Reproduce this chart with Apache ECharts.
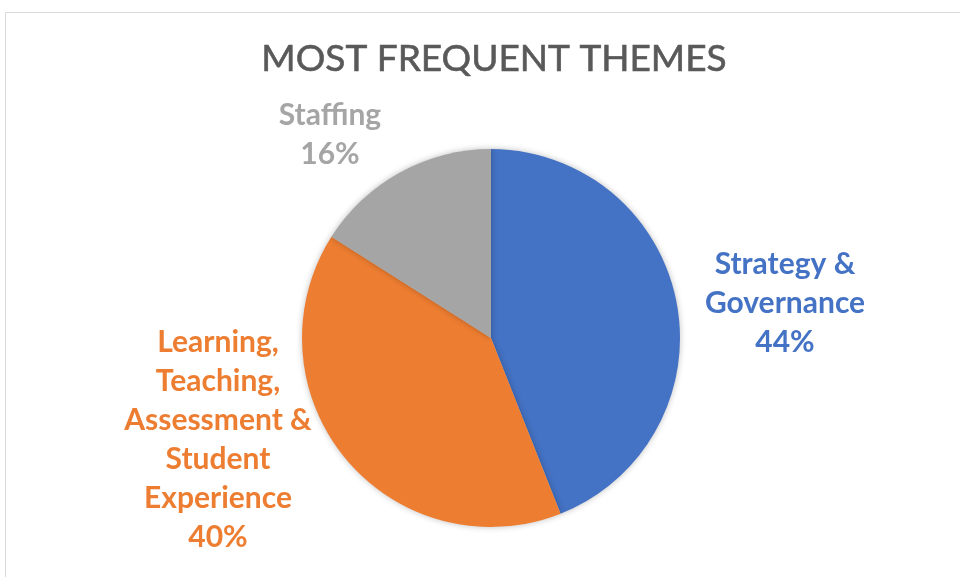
<!DOCTYPE html>
<html>
<head>
<meta charset="utf-8">
<script src="https://cdn.jsdelivr.net/npm/echarts@6/dist/echarts.min.js"></script>
<style>html,body{margin:0;padding:0;background:#fff}#c{width:960px;height:577px}</style>
</head>
<body>
<div id="c"></div>
<script>
const titleText = 'MOST FREQUENT THEMES';
const categories = ['Strategy &\nGovernance', 'Learning,\nTeaching,\nAssessment &\nStudent\nExperience', 'Staffing'];
const values = [44, 40, 16];
const colors = ['#4472C4', '#ED7D31', '#A5A5A5'];

// label placement (layout only, Excel "best fit" look)
const labelSpots = [[785, 303], [218, 440], [330, 135]];

const chart = echarts.init(document.getElementById('c'), null, {renderer: 'canvas'});
const FONT = 'Lato, "Open Sans", sans-serif';
chart.setOption({
  animation: false,
  backgroundColor: '#fff',
  graphic: [{
    type: 'rect', shape: {x: 5.5, y: 12.5, width: 1000, height: 700},
    style: {fill: 'none', stroke: '#d9d9d9', lineWidth: 1}, silent: true, z: -1
  }],
  title: {
    text: titleText, left: 489, textAlign: 'center', top: 36,
    textStyle: {fontFamily: FONT, fontSize: 37, fontWeight: 'normal', color: '#595959',
      textBorderColor: '#595959', textBorderWidth: 0.6}
  },
  series: [{
    type: 'pie',
    center: [491, 338],
    radius: [0, 189],
    startAngle: 90,
    clockwise: true,
    data: categories.map((c, i) => ({name: c, value: values[i], itemStyle: {color: colors[i]}, label: {color: colors[i]}})),
    itemStyle: {shadowBlur: 6, shadowColor: 'rgba(0,0,0,0.25)'},
    label: {
      show: true, position: 'outside',
      formatter: '{b}\n{d}%',
      fontFamily: FONT, fontSize: 30, fontWeight: 'bold', lineHeight: 39
    },
    labelLine: {show: false},
    labelLayout: function (p) {
      const s = labelSpots[p.dataIndex];
      return {x: s[0], y: s[1], align: 'center', verticalAlign: 'middle'};
    },
    emphasis: {disabled: true}
  }]
});
</script>
</body>
</html>
